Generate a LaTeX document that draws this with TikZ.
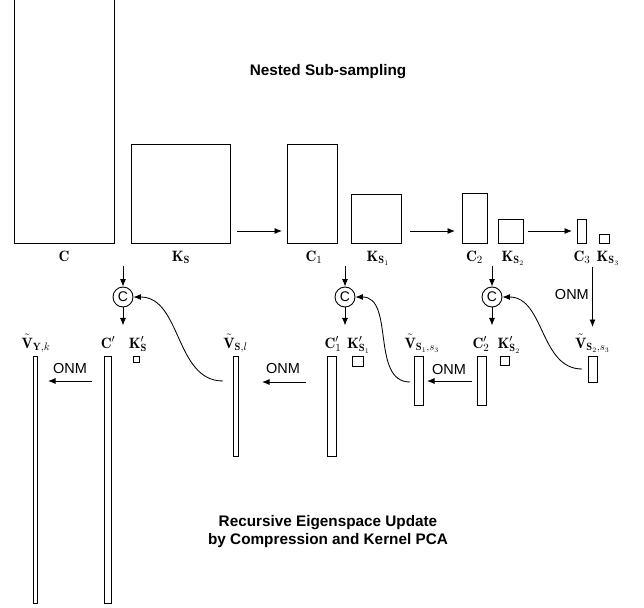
\documentclass[tikz,border=0pt]{standalone}
\usepackage{fontspec}
\newfontfamily\hv{Liberation Sans}
\usetikzlibrary{arrows.meta,calc}
\begin{document}
\begin{tikzpicture}[x=1pt,y=-1pt,
  box/.style={draw, line width=1pt, inner sep=0pt, outer sep=0pt},
  lbl/.style={font=\fontsize{15}{17}\selectfont, inner sep=0pt, anchor=base},
  arr/.style={line width=0.85pt, -{Latex[length=7.5pt,width=6pt]}},
  cc/.style={draw, circle, line width=0.9pt, minimum size=20pt, inner sep=0pt, font=\hv\fontsize{14}{14}\selectfont},
  onm/.style={font=\hv\fontsize{14.5}{16}\selectfont, inner sep=0pt},
  ttl/.style={font=\hv\bfseries\fontsize{15.3}{18}\selectfont, align=center, inner sep=0pt}]
\useasboundingbox (0,0) rectangle (644,607);

% titles
\node[ttl, anchor=base] (t1) at (328,76) {Nested Sub-sampling};
\node[ttl] (t2) at (328,532) {Recursive Eigenspace Update\\by Compression and Kernel PCA};

% top row matrices
\node[box, minimum width=100pt, minimum height=330pt] (C)   at (64,78)    {};
\node[box, minimum width=99pt,  minimum height=99pt]  (KS)  at (180.5,193.5) {};
\node[box, minimum width=50pt,  minimum height=99pt]  (C1)  at (312,193.5) {};
\node[box, minimum width=50pt,  minimum height=49pt]  (KS1) at (376,218.5) {};
\node[box, minimum width=25pt,  minimum height=50pt]  (C2)  at (474.5,218) {};
\node[box, minimum width=25pt,  minimum height=24pt]  (KS2) at (510.5,231) {};
\node[box, minimum width=9pt,   minimum height=24pt]  (C3)  at (581.5,231) {};
\node[box, minimum width=10pt,  minimum height=9pt]   (KS3) at (604,238.5) {};

% top row labels
\node[lbl] (lC)   at (64,261)    {$\mathbf{C}$};
\node[lbl] (lKS)  at (181,261)   {$\mathbf{K}_{\mathbf{S}}$};
\node[lbl] (lC1)  at (314,261)   {$\mathbf{C}_1$};
\node[lbl] (lKS1) at (378,261)   {$\mathbf{K}_{\mathbf{S}_1}$};
\node[lbl] (lC2)  at (474.5,261) {$\mathbf{C}_2$};
\node[lbl] (lKS2) at (513,261)   {$\mathbf{K}_{\mathbf{S}_2}$};
\node[lbl] (lC3)  at (582,261)   {$\mathbf{C}_3$};
\node[lbl] (lKS3) at (608,261)   {$\mathbf{K}_{\mathbf{S}_3}$};

% bottom row matrices
\node[box, minimum width=4pt,  minimum height=247pt] (VYk)  at (35,479.5)  {};
\node[box, minimum width=7pt,  minimum height=247pt] (Cp)   at (107.5,479.5) {};
\node[box, minimum width=6pt,  minimum height=6pt]   (KSp)  at (136,359)   {};
\node[box, minimum width=5pt,  minimum height=100pt] (VSl)  at (235.5,406) {};
\node[box, minimum width=9pt,  minimum height=100pt] (C1p)  at (331.5,406) {};
\node[box, minimum width=11pt, minimum height=10pt]  (KS1p) at (357.5,361) {};
\node[box, minimum width=9pt,  minimum height=49pt]  (VS1)  at (418.5,380.5) {};
\node[box, minimum width=9pt,  minimum height=49pt]  (C2p)  at (481.5,380.5) {};
\node[box, minimum width=9pt,  minimum height=9pt]   (KS2p) at (504.5,360.5) {};
\node[box, minimum width=9pt,  minimum height=26pt]  (VS2)  at (592.5,369) {};

% bottom row labels
\node[lbl] (lVYk)  at (36,348)    {$\tilde{\mathbf{V}}_{\mathbf{Y},k}$};
\node[lbl] (lCp)   at (108,348)   {$\mathbf{C}'$};
\node[lbl] (lKSp)  at (138,348)   {$\mathbf{K}'_{\mathbf{S}}$};
\node[lbl] (lVSl)  at (235.5,348) {$\tilde{\mathbf{V}}_{\mathbf{S},l}$};
\node[lbl] (lC1p)  at (333,348)   {$\mathbf{C}'_1$};
\node[lbl] (lKS1p) at (358.5,348) {$\mathbf{K}'_{\mathbf{S}_1}$};
\node[lbl] (lVS1)  at (422,348)   {$\tilde{\mathbf{V}}_{\mathbf{S}_1,s_3}$};
\node[lbl] (lC2p)  at (481,348)   {$\mathbf{C}'_2$};
\node[lbl] (lKS2p) at (509,348)   {$\mathbf{K}'_{\mathbf{S}_2}$};
\node[lbl] (lVS2)  at (592.5,348) {$\tilde{\mathbf{V}}_{\mathbf{S}_2,s_3}$};

% compression circles
\node[cc] (o1) at (123,297) {C};
\node[cc] (o2) at (345,297) {C};
\node[cc] (o3) at (492,297) {C};

\draw[arr] (o1.north |- 0,266) -- (o1.north);
\draw[arr] (o1.south) -- ($(o1.south)+(0,18)$);
\draw[arr] (o2.north |- 0,266) -- (o2.north);
\draw[arr] (o2.south) -- ($(o2.south)+(0,18)$);
\draw[arr] (o3.north |- 0,266) -- (o3.north);
\draw[arr] (o3.south) -- ($(o3.south)+(0,18)$);

% sub-sampling arrows
\draw[arr] ($(KS.east |- 0,231)+(7,0)$) -- ($(C1.west |- 0,231)+(-5,0)$);
\draw[arr] ($(KS1.east |- 0,231)+(9,0)$) -- ($(C2.west |- 0,231)+(-7,0)$);
\draw[arr] ($(KS2.east |- 0,231)+(5,0)$) -- ($(C3.west |- 0,231)+(-5,0)$);

% ONM arrows
\draw[arr] (VS2.north |- 0,267) -- (VS2.north |- 0,327);
\node[onm, anchor=east] (onm4) at (589,295) {ONM};
\draw[arr] ($(C2p.west |- 0,381)+(-5,0)$) -- ($(VS1.east |- 0,381)+(4,0)$);
\node[onm] (onm3) at (449,370) {ONM};
\draw[arr] ($(C1p.west |- 0,382)+(-21,0)$) -- ($(VSl.east |- 0,382)+(24,0)$);
\node[onm] (onm2) at (283,369) {ONM};
\draw[arr] ($(Cp.west |- 0,381)+(-12,0)$) -- ($(VYk.east |- 0,381)+(11,0)$);
\node[onm] (onm1) at (70,369) {ONM};

% eigenspace feedback curves
\draw[arr] ($(VSl.west |- 0,381)+(-10,0)$) to[out=180,in=0] (o1.east);
\draw[arr] ($(VS1.west |- 0,382)+(-4,0)$) to[out=180,in=0] (o2.east);
\draw[arr] ($(VS2.west |- 0,369)+(-6,0)$) to[out=180,in=0] (o3.east);
\end{tikzpicture}
\end{document}
